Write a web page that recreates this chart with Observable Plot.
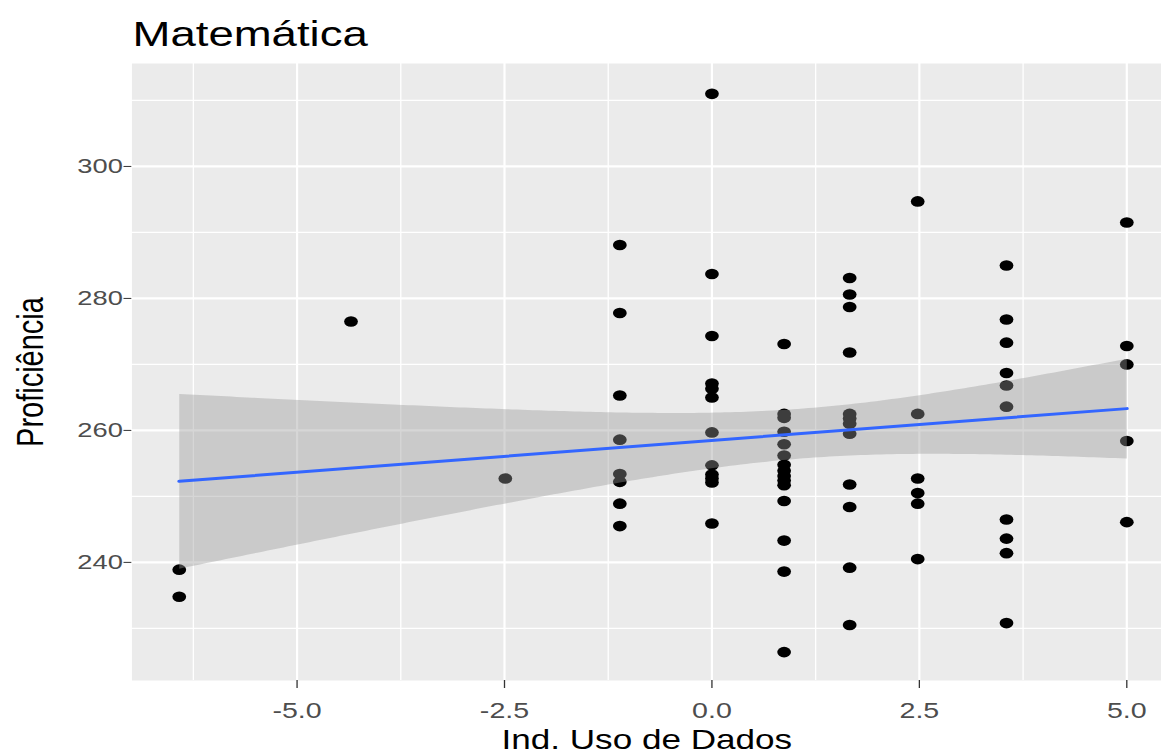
<!DOCTYPE html>
<html>
<head>
<meta charset="utf-8">
<script src="https://cdn.jsdelivr.net/npm/d3@7"></script>
<script src="https://cdn.jsdelivr.net/npm/@observablehq/plot@0.6"></script>
<style>
  html, body { margin: 0; padding: 0; background: #ffffff; }
  #chart svg { display: block; }
</style>
</head>
<body>
<div id="chart"></div>
<script>
// ---- Data (x = Ind. Uso de Dados, y = Proficiência) ----
const title = "Matemática";
const xLabel = "Ind. Uso de Dados";
const yLabel = "Proficiência";

const xLevels = [-6.42, -4.35, -2.49, -1.11, 0, 0.87, 1.66, 2.48, 3.55, 5.0];
const yAtM642 = [238.9, 234.8];
const yAtM435 = [276.5];
const yAtM249 = [252.7];
const yAtM111 = [288.1, 277.8, 265.3, 258.6, 253.4, 252.2, 248.9, 245.5];
const yAt000  = [311.0, 283.7, 274.3, 267.1, 266.3, 265.0, 259.7, 254.7, 253.3, 252.7, 252.1, 245.9];
const yAt087  = [273.1, 262.5, 261.9, 259.8, 257.9, 256.2, 254.8, 253.9, 253.1, 252.4, 251.7, 249.3, 243.3, 238.6, 226.4];
const yAt166  = [283.1, 280.6, 278.7, 271.8, 262.5, 261.8, 261.0, 259.5, 251.8, 248.4, 239.2, 230.5];
const yAt248  = [294.7, 262.5, 252.7, 250.5, 248.9, 240.5];
const yAt355  = [285.0, 276.8, 273.3, 268.7, 266.8, 263.6, 246.5, 243.6, 241.4, 230.8];
const yAt500  = [291.5, 272.8, 270.0, 258.4, 246.1];

const xTicks = [-5, -2.5, 0, 2.5, 5];
const xMinor = [-6.25, -3.75, -1.25, 1.25, 3.75];
const yTicks = [240, 260, 280, 300];
const yMinor = [230, 250, 270, 290, 310];

// ---- Build table ----
const columns = [yAtM642, yAtM435, yAtM249, yAtM111, yAt000, yAt087, yAt166, yAt248, yAt355, yAt500];
const data = [];
columns.forEach((ys, i) => ys.forEach(y => data.push({x: xLevels[i], y})));

// The reference is horizontally stretched; draw at narrower width then stretch.
const STRETCH = 1.3;
const OUT_W = 1161, OUT_H = 755;
const W = OUT_W / STRETCH;

const ff = "'Liberation Sans', Arial, sans-serif";

const chart = Plot.plot({
  width: W,
  height: OUT_H,
  marginTop: 63,
  marginBottom: 75,
  marginLeft: 101,
  marginRight: 0,
  style: {fontFamily: ff, background: "white", overflow: "visible"},
  x: {domain: [-6.99, 5.42]},
  y: {domain: [222.1, 315.6]},
  marks: [
    Plot.frame({fill: "#EBEBEB", stroke: "none"}),
    Plot.gridY({ticks: yMinor, stroke: "white", strokeOpacity: 1, strokeWidth: 1.3}),
    Plot.gridX({ticks: xMinor, stroke: "white", strokeOpacity: 1, strokeWidth: 1.0}),
    Plot.gridY({ticks: yTicks, stroke: "white", strokeOpacity: 1, strokeWidth: 2.2}),
    Plot.gridX({ticks: xTicks, stroke: "white", strokeOpacity: 1, strokeWidth: 1.7}),
    Plot.axisX({ticks: xTicks, tickFormat: d => d.toFixed(1), tickSize: 8, tickPadding: 14,
      fontSize: 22, color: "#4D4D4D", stroke: "#333333", label: null}),
    Plot.axisY({ticks: yTicks, tickFormat: d => String(d), tickSize: 6, tickPadding: 1,
      fontSize: 21, color: "#4D4D4D", stroke: "#333333", label: null}),
    Plot.dot(data, {x: "x", y: "y", r: 5.3, fill: "black", stroke: "none"}),
    Plot.linearRegressionY(data, {x: "x", y: "y", ci: 0.95, stroke: "#3366FF", strokeWidth: 3,
      fill: "#999999", fillOpacity: 0.4}),
    Plot.text([title], {frameAnchor: "top-left", dx: 0.5, dy: -18, lineAnchor: "bottom",
      textAnchor: "start", fontSize: 35, fill: "black"}),
    Plot.text([xLabel], {frameAnchor: "bottom", dy: 60, lineAnchor: "middle", textAnchor: "middle",
      fontSize: 27, fill: "black"}),
    Plot.text([yLabel], {frameAnchor: "left", dx: -78, rotate: -90, lineAnchor: "middle",
      textAnchor: "middle", fontSize: 29, fill: "black"})
  ]
});

chart.setAttribute("preserveAspectRatio", "none");
chart.setAttribute("width", OUT_W);
chart.setAttribute("height", OUT_H);
chart.style.width = OUT_W + "px";
chart.style.height = OUT_H + "px";
chart.style.maxWidth = "none";
document.getElementById("chart").appendChild(chart);
</script>
</body>
</html>
